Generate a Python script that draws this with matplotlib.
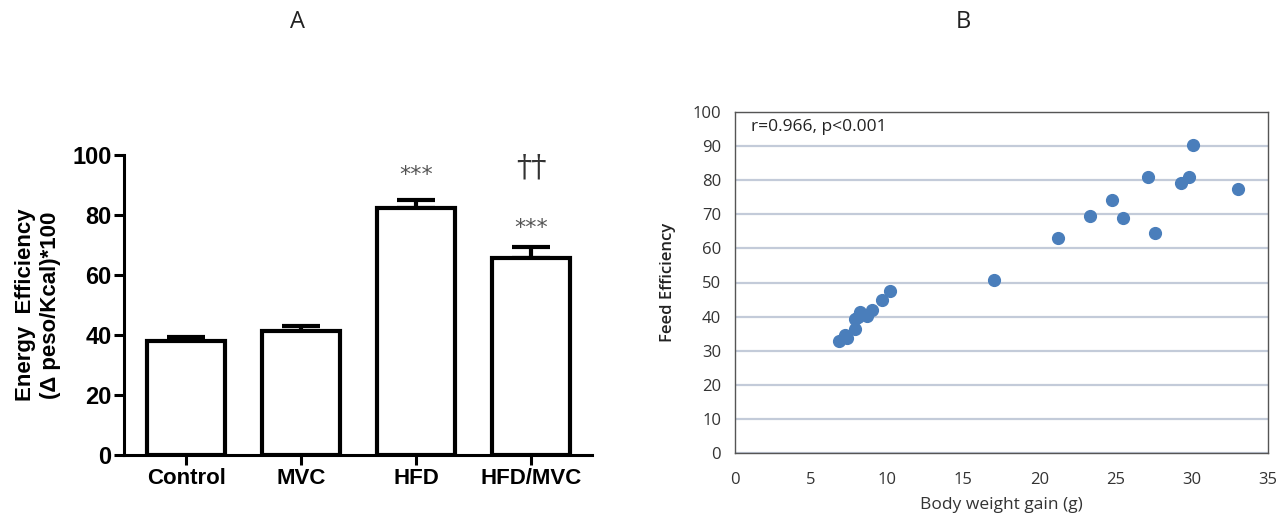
import matplotlib.pyplot as plt

# panel A data
groups = ['Control', 'MVC', 'HFD', 'HFD/MVC']
energy_eff = [38.0, 41.3, 82.3, 65.8]
energy_err = [1.2, 1.6, 2.6, 3.6]
marks_top = ['', '', '***', '††']
marks_low = ['', '', '', '***']

# panel B data
weight_gain = [6.8, 7.25, 7.35, 7.9, 7.9, 8.2, 8.1, 8.65, 9.0, 9.65, 10.2,
               17.0, 21.2, 23.3, 24.75, 25.5, 27.1, 27.6, 29.3, 29.8, 30.1, 33.0]
feed_eff = [32.9, 34.6, 33.7, 36.4, 39.2, 41.3, 40.0, 40.1, 41.8, 44.8, 47.4,
            50.6, 63.0, 69.4, 74.1, 68.9, 80.8, 64.6, 79.2, 80.8, 90.2, 77.3]

fig = plt.figure(figsize=(12.8, 5.17), dpi=100)

fig.text(298 / 1280, 1 - 22 / 517, 'A', ha='center', va='center',
         fontsize=17, family='Open Sans', color='#222222')
fig.text(963 / 1280, 1 - 22 / 517, 'B', ha='center', va='center',
         fontsize=17, family='Open Sans', color='#222222')

# ---- panel A
ax1 = fig.add_axes([124 / 1280, 1 - 455 / 517, 468 / 1280, 300 / 517])
x = range(len(groups))
ax1.bar(x, energy_eff, width=0.68, color='white', edgecolor='black',
        linewidth=3, zorder=2)
ax1.errorbar(x, energy_eff, yerr=[[0] * 4, energy_err], fmt='none',
             ecolor='black', elinewidth=3, capsize=14, capthick=3, zorder=1)
for i in x:
    top = energy_eff[i] + energy_err[i]
    if marks_low[i]:
        ax1.text(i, top + 3, marks_low[i], ha='center', va='bottom',
                 fontsize=16, color='#555555', family='DejaVu Sans')
        ax1.text(i, top + 21, marks_top[i], ha='center', va='bottom',
                 fontsize=22, color='#333333', family='DejaVu Serif')
    elif marks_top[i]:
        ax1.text(i, top + 5, marks_top[i], ha='center', va='bottom',
                 fontsize=16, color='#555555', family='DejaVu Sans')
ax1.set_xlim(-0.54, 3.53)
ax1.set_ylim(0, 100)
ax1.set_yticks([0, 20, 40, 60, 80, 100])
ax1.set_xticks(list(x))
ax1.set_xticklabels(groups)
for s in ['top', 'right']:
    ax1.spines[s].set_visible(False)
for s in ['left', 'bottom']:
    ax1.spines[s].set_linewidth(2.2)
ax1.tick_params(width=2.2, length=7, pad=2)
for lab in ax1.get_xticklabels():
    lab.set_fontweight('bold')
    lab.set_family('Liberation Sans')
    lab.set_fontsize(16)
for lab in ax1.get_yticklabels():
    lab.set_fontweight('bold')
    lab.set_family('Liberation Sans')
    lab.set_fontsize(17)
ax1.set_ylabel('Energy  Efficiency\n(\u0394 peso/Kcal)*100', fontsize=16,
               fontweight='bold', family='Liberation Sans', linespacing=1.25)
ax1.yaxis.set_label_coords(-0.135, 0.5)

# ---- panel B
ax2 = fig.add_axes([735 / 1280, 1 - 453 / 517, 533 / 1280, 341 / 517])
ax2.set_xlim(0, 35)
ax2.set_ylim(0, 100)
ax2.set_xticks(range(0, 36, 5))
ax2.set_yticks(range(0, 101, 10))
ax2.yaxis.grid(True, color='#c3cbd9', linewidth=1.6)
ax2.set_axisbelow(True)
ax2.scatter(weight_gain, feed_eff, s=72, color='#4a7ebb', zorder=3)
for s in ax2.spines.values():
    s.set_color('#555555')
    s.set_linewidth(1.0)
ax2.tick_params(length=0, labelsize=12, colors='#333333')
ax2.tick_params(axis='x', pad=14)
ax2.tick_params(axis='y', pad=10)
for lab in ax2.get_xticklabels() + ax2.get_yticklabels():
    lab.set_family('Open Sans')
ax2.text(0.03, 0.955, 'r=0.966, p<0.001', transform=ax2.transAxes,
         ha='left', va='center', fontsize=12.5, family='Open Sans',
         color='#222222')
ax2.set_xlabel('Body weight gain (g)', fontsize=12.5, family='Open Sans',
               color='#333333', labelpad=6)
ax2.set_ylabel('Feed Efficiency', fontsize=12, family='Open Sans',
               fontweight='semibold', color='#222222', labelpad=12)

fig.savefig('out.png', dpi=100)
